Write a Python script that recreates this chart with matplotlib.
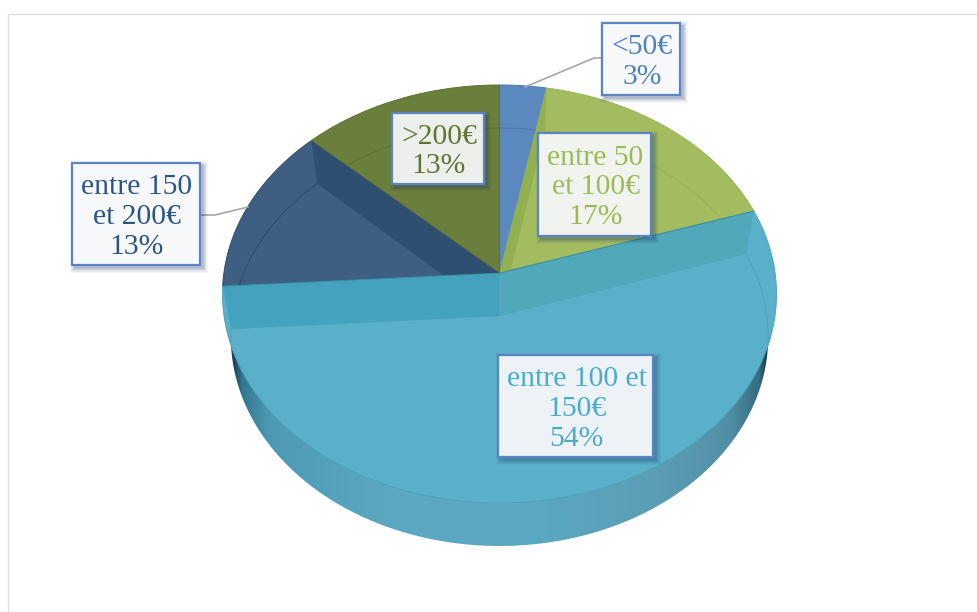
import matplotlib
matplotlib.use("Agg")
import matplotlib.pyplot as plt
from matplotlib.colors import LinearSegmentedColormap
from matplotlib.patches import Polygon, Rectangle
import numpy as np

plt.rcParams['font.family'] = ['Liberation Serif', 'DejaVu Serif']

# slices, clockwise from 12 o'clock
labels = ["<50€\n3%", "entre 50\net 100€\n17%", "entre 100 et\n150€\n54%",
          "entre 150\net 200€\n13%", ">200€\n13%"]
values = [3, 17, 54, 13, 13]

face_colors = ["#5a88bf", "#a3bc60", "#5aafc9", "#3f5f82", "#6b7f3c"]
wall_colors = ["#5a88bf", "#93b050", None, "#2f4f70", None]
ring_colors = ["#4d78ab", "#9ab25a", "#50a3bc", "#2f4c6c", "#5e7034"]
text_colors = ["#4f81bd", "#9bbb59", "#4bacc6", "#2c5485", "#5f7530"]

# label boxes: left, top, right, bottom in pixels
boxes = [(602, 23, 680, 95), (538, 133, 651, 236), (498, 355, 653, 457),
         (72, 163, 200, 265), (392, 113, 484, 184)]

# disc geometry in pixels, a is the perspective shift of the centre
cx, cy_top, cy_bot = 499.5, 294, 337
rx, ry, a = 277, 209, 0.1
bot_scale = 0.97


def project(frac, bottom=False):
    # fraction of the turn -> pixel position on the rim
    ang = 2 * np.pi * np.asarray(frac)
    u, v = np.sin(ang), np.cos(ang)
    d = 1 + a * v
    px = u * np.sqrt(1 - a ** 2) / d
    py = (v + a) / d
    if bottom:
        return np.column_stack([cx + bot_scale * rx * px, cy_bot - ry * py])
    return np.column_stack([cx + rx * px, cy_top - ry * py])


def centre(bottom=False):
    if bottom:
        return np.array([cx, cy_bot - ry * a])
    return np.array([cx, cy_top - ry * a])


def arc(f0, f1, bottom=False):
    return project(np.linspace(f0, f1, 200), bottom)


def wedge(f0, f1):
    return np.vstack([centre(), arc(f0, f1)])


def wall(f):
    # radial cut between the top and bottom faces
    return np.vstack([centre(), project([f]), project([f], True), centre(True)])


fig = plt.figure(figsize=(9.77, 6.12), dpi=100)
ax = fig.add_axes([0, 0, 1, 1])
ax.set_xlim(0, 977)
ax.set_ylim(612, 0)
ax.axis('off')

# chart frame
ax.plot([8, 8, 977], [612, 14, 14], color="#dedede", lw=1.0, zorder=1)

# outer side, seen below the top face
side = Polygon(arc(0, 1, True), closed=True, transform=ax.transData, fc='none', ec='none')
ax.add_patch(side)
side_cmap = LinearSegmentedColormap.from_list("side", [
    (0.00, "#1c4454"), (0.02, "#347a94"), (0.07, "#4e9ab4"), (0.30, "#5aa8c2"),
    (0.55, "#5aa9c2"), (0.80, "#5b9db5"), (0.93, "#528fa6"), (0.985, "#356c80"),
    (1.00, "#1b3d4a")])
im = ax.imshow(np.linspace(0, 1, 300).reshape(1, -1), cmap=side_cmap, aspect='auto',
               extent=[cx - rx * bot_scale, cx + rx * bot_scale, 560, 300], zorder=2)
im.set_clip_path(side)
ax.set_xlim(0, 977)
ax.set_ylim(612, 0)

# top faces with the walls and bottom rim showing through them
edges = np.concatenate([[0], np.cumsum(values)]) / np.sum(values)
for i in range(len(values)):
    f0, f1 = edges[i], edges[i + 1]
    pts = wedge(f0, f1)
    face = Polygon(pts, closed=True, fc=face_colors[i], ec=ring_colors[i], lw=0.7, zorder=3)
    ax.add_patch(face)
    if wall_colors[i] is not None:
        cut = f0 if i == 1 else f1
        w = Polygon(wall(cut), closed=True, fc=wall_colors[i], ec='none', zorder=4)
        ax.add_patch(w)
        w.set_clip_path(face)
    ring, = ax.plot(*arc(f0, f1, True).T, color=ring_colors[i], lw=0.7, zorder=4)
    ring.set_clip_path(face)

# the big slice's two cut walls sit on top of everything behind
f0, f1 = edges[2], edges[3]
ax.add_patch(Polygon(wall(f0), closed=True, fc="#50a8ba", ec='none', zorder=5))
ax.add_patch(Polygon(wall(f1), closed=True, fc="#45a2be", ec='none', zorder=5))
ax.plot(*np.vstack([project([f1]), centre(), project([f0])]).T, color="#3a8ea0", lw=0.7, zorder=6)

# leader lines
ax.plot([525, 594, 602], [87, 58, 58], color="#a6a6a6", lw=1.2, zorder=7)
ax.plot([200, 215, 248], [215, 215, 207], color="#a6a6a6", lw=1.2, zorder=7)

# label boxes
for (x0, y0, x1, y1), label, col in zip(boxes, labels, text_colors):
    for grow, alpha in zip([5, 4, 3, 2, 1], [0.04, 0.05, 0.07, 0.09, 0.12]):
        ax.add_patch(Rectangle((x0 + 3 - grow, y0 + 3 - grow), x1 - x0 + 2 * grow, y1 - y0 + 2 * grow,
                               fc="#1f3864", ec='none', alpha=alpha, zorder=8))
    ax.add_patch(Rectangle((x0, y0), x1 - x0, y1 - y0, fc="#ffffff", ec='none', alpha=0.9, zorder=9))
    ax.add_patch(Rectangle((x0, y0), x1 - x0, y1 - y0, fc='none', ec="#5a84c2", lw=1.6, zorder=10))
    ax.text((x0 + x1) / 2 + 1, (y0 + y1) / 2 + 3, label, color=col, fontsize=21.3, ha='center',
            va='center', linespacing=1.18, zorder=11)

fig.savefig("out.png", dpi=100)
